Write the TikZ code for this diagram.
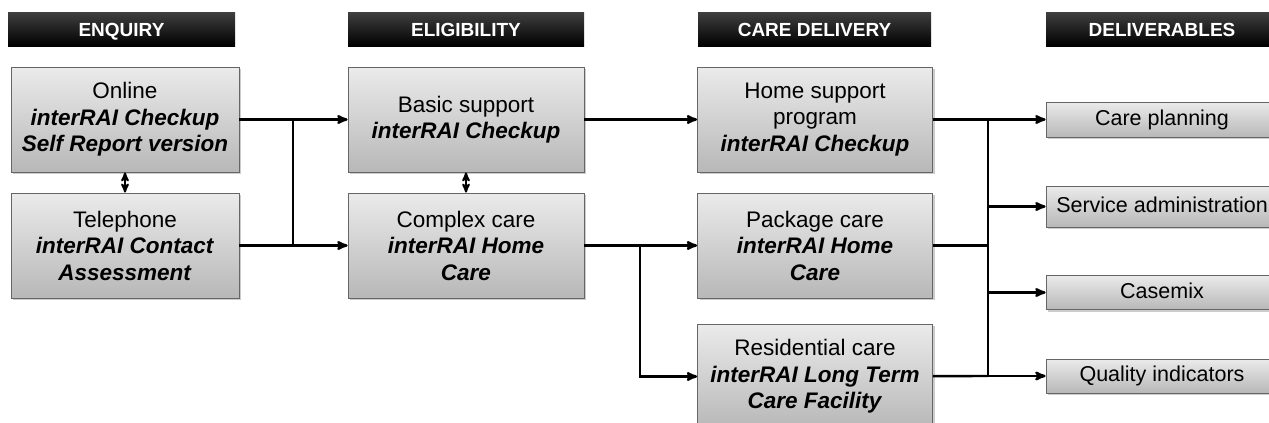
\documentclass[tikz,border=0pt]{standalone}
\usepackage{fontspec}
\setmainfont{Liberation Sans}
\usetikzlibrary{arrows,shadows}

\begin{document}
\begin{tikzpicture}[x=1pt,y=-1pt,>=stealth',line width=2.4pt,
    head/.style={draw=none,top color=black!75,middle color=black,bottom color=black,
      text=white,font=\fontsize{19}{22}\selectfont\bfseries,
      text height=14pt,text depth=0pt,
      minimum height=34pt,inner sep=0pt},
    stage/.style={draw=black!60,line width=0.8pt,top color=black!8,bottom color=black!28,
      drop shadow={shadow xshift=2pt,shadow yshift=-2pt,opacity=0.4},
      align=center,font=\fontsize{22.5}{26.5}\selectfont,
      minimum height=105pt,inner sep=0pt},
    deliv/.style={draw=black!60,line width=0.8pt,top color=black!8,bottom color=black!28,
      drop shadow={shadow xshift=2pt,shadow yshift=-2pt,opacity=0.4},
      font=\fontsize{21.5}{25}\selectfont,text height=15.5pt,text depth=4.5pt,
      minimum width=232pt,inner sep=0pt}]
      \useasboundingbox (0,0) rectangle (1269,423);

      % column headings
      \node[head,minimum width=227pt] (h1) at (121.5,29) {ENQUIRY};
      \node[head,minimum width=236pt] (h2) at (466,29) {ELIGIBILITY};
      \node[head,minimum width=233pt] (h3) at (814.5,29) {CARE DELIVERY};
      \node[head,minimum width=232pt] (h4) at (1162,29) {DELIVERABLES};

      % enquiry
      \node[stage,minimum width=228pt] (e1) at (125,119.5) {Online\\\textbf{\textit{interRAI Checkup}}\\\textbf{\textit{Self Report version}}};
      \node[stage,minimum width=228pt] (e2) at (125,245.5) {Telephone\\\textbf{\textit{interRAI Contact}}\\\textbf{\textit{Assessment}}};

      % eligibility
      \node[stage,minimum width=236pt] (g1) at (466,119.5) {Basic support\\\textbf{\textit{interRAI Checkup}}};
      \node[stage,minimum width=236pt] (g2) at (466,245.5) {Complex care\\\textbf{\textit{interRAI Home}}\\\textbf{\textit{Care}}};

      % care delivery
      \node[stage,minimum width=235pt] (c1) at (815,119.5) {Home support\\program\\\textbf{\textit{interRAI Checkup}}};
      \node[stage,minimum width=235pt] (c2) at (815,245.5) {Package care\\\textbf{\textit{interRAI Home}}\\\textbf{\textit{Care}}};
      \node[stage,minimum width=235pt] (c3) at (815,376.5) {Residential care\\\textbf{\textit{interRAI Long Term}}\\\textbf{\textit{Care Facility}}};

      % deliverables
      \node[deliv,minimum height=35pt] (d1) at (1162,119.5) {Care planning};
      \node[deliv,minimum height=41pt] (d2) at (1162,206.5) {Service administration};
      \node[deliv,minimum height=34pt] (d3) at (1162,292.5) {Casemix};
      \node[deliv,minimum height=34pt] (d4) at (1162,376) {Quality indicators};

      \coordinate (j1) at (293,119.5);
      \coordinate (j2) at (293,245.5);
      \coordinate (j3) at (640,245.5);
      \coordinate (b1) at (988,119.5);
      \coordinate (b4) at (988,376);

      \path[<->,line width=2pt]
      (e1) edge (e2)
      (g1) edge (g2)
      ;

      \path[->]
      (e1) edge (g1)
      (e2) edge (g2)
      (g1) edge (c1)
      (g2) edge (c2)
      (b1) edge (d1)
      (b1 |- d2) edge (d2)
      (b1 |- d3) edge (d3)
      (b4) edge (d4)
      ;

      \draw (j1) -- (j2);
      \draw[->] (j3) |- (c3);
      \draw (c1) -- (b1);
      \draw[line width=3.6pt] (c2) -- (c2 -| b1);
      \draw (c3) -- (b4);
      \draw (b1) -- (b4);
    \end{tikzpicture}
\end{document}
